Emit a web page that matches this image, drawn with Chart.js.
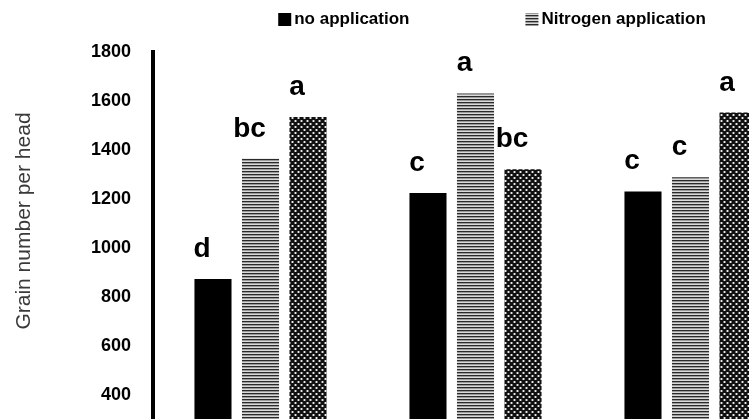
<!DOCTYPE html>
<html>
<head>
<meta charset="utf-8">
<script src="https://cdn.jsdelivr.net/npm/chart.js@4.4.1/dist/chart.umd.min.js"></script>
<style>
  html, body { margin: 0; padding: 0; background: #fff; overflow: hidden; }
  #graphCanvas { display: block; }
</style>
</head>
<body>
<canvas id="graphCanvas" width="820" height="520"></canvas>
<script>
// values
var categories = ['Group 1', 'Group 2', 'Group 3'];
var noApplication = [873, 1225, 1231];
var nitrogenApplication = [1365, 1631, 1289];
var thirdTreatment = [1535, 1321, 1553];

var lettersNo = ['d', 'c', 'c'];
var lettersNitrogen = ['bc', 'a', 'c'];
var lettersThird = ['a', 'bc', 'a'];

var yMin = 0;
var yMax = 1800;
var yStep = 200;

var axisTitle = 'Grain number per head';
var FONT = "'Liberation Sans', Arial, sans-serif";

function makeStripes()
{
    var c = document.createElement('canvas');
    c.width = 4; c.height = 3;
    var g = c.getContext('2d');
    g.fillStyle = '#2a2a2a';
    g.fillRect(0, 0, 4, 1);
    g.fillStyle = '#9a9a9a';
    g.fillRect(0, 1, 4, 1);
    g.fillStyle = '#dadada';
    g.fillRect(0, 2, 4, 1);
    return g.createPattern(c, 'repeat');
}

function makeChecker()
{
    var c = document.createElement('canvas');
    c.width = 6; c.height = 6;
    var g = c.getContext('2d');
    g.fillStyle = '#111';
    g.fillRect(0, 0, 6, 6);
    g.fillStyle = '#707070';
    g.fillRect(0, 0, 3, 2);
    g.fillRect(3, 3, 3, 2);
    g.fillStyle = '#eaeaea';
    g.fillRect(1, 0, 1, 2);
    g.fillRect(4, 3, 1, 2);
    return g.createPattern(c, 'repeat');
}

var stripes = makeStripes();
var checker = makeChecker();

// letters above bars, legend and rotated axis title
var extras = {
    id: 'extras',
    afterDatasetsDraw: function(chart) {
        var ctx = chart.ctx;
        var letters = [lettersNo, lettersNitrogen, lettersThird];
        ctx.save();
        ctx.fillStyle = '#000';
        ctx.font = 'bold 28px ' + FONT;
        ctx.textAlign = 'center';
        ctx.textBaseline = 'alphabetic';
        chart.data.datasets.forEach(function(ds, i) {
            chart.getDatasetMeta(i).data.forEach(function(bar, j) {
                ctx.fillText(letters[i][j], bar.x - 11, bar.y - 22);
            });
        });
        ctx.restore();
    },
    afterDraw: function(chart) {
        var ctx = chart.ctx;
        ctx.save();
        // legend (the visible two entries)
        ctx.font = 'bold 17px ' + FONT;
        ctx.textBaseline = 'middle';
        ctx.textAlign = 'left';
        var items = [
            { text: chart.data.datasets[0].label, fill: '#000' },
            { text: chart.data.datasets[1].label, fill: stripes }
        ];
        var box = 13, gap = 3, spacing = 116;
        var total = 0;
        items.forEach(function(it, k) {
            it.w = box + gap + ctx.measureText(it.text).width;
            total += it.w + (k > 0 ? spacing : 0);
        });
        var x = 492 - total / 2;
        var cy = 19;
        items.forEach(function(it) {
            ctx.fillStyle = it.fill;
            ctx.fillRect(x, cy - 6, box, box);
            ctx.fillStyle = '#000';
            ctx.fillText(it.text, x + box + gap, cy);
            x += it.w + spacing;
        });
        // y axis title
        ctx.translate(24, 221);
        ctx.rotate(-Math.PI / 2);
        ctx.font = '21px ' + FONT;
        ctx.fillStyle = '#3a3a3a';
        ctx.textAlign = 'center';
        ctx.fillText(axisTitle, 0, 0);
        ctx.restore();
    }
};

var graphTarget = document.getElementById('graphCanvas');

new Chart(graphTarget, {
    type: 'bar',
    data: {
        labels: categories,
        datasets: [
            { label: 'no application', data: noApplication, backgroundColor: '#000' },
            { label: 'Nitrogen application', data: nitrogenApplication, backgroundColor: stripes },
            { label: 'Third treatment', data: thirdTreatment, backgroundColor: checker }
        ]
    },
    options: {
        responsive: false,
        animation: false,
        devicePixelRatio: 1,
        layout: { padding: { top: 52, left: 0, right: 22, bottom: 27 } },
        datasets: {
            bar: { categoryPercentage: 0.663, barPercentage: 0.78, borderWidth: 0 }
        },
        plugins: {
            legend: { display: false },
            tooltip: { enabled: false }
        },
        scales: {
            x: {
                grid: { display: false },
                border: { display: false },
                ticks: { display: false },
                afterFit: function(scale) { scale.height = 0; }
            },
            y: {
                min: yMin,
                max: yMax,
                grid: { display: false },
                border: { display: true, color: '#000', width: 4 },
                ticks: {
                    stepSize: yStep,
                    padding: 14,
                    color: '#000',
                    font: { family: FONT, size: 18, weight: 'bold' },
                    callback: function(value) { return String(value); }
                },
                afterFit: function(scale) { scale.width = 153; }
            }
        }
    },
    plugins: [extras]
});
</script>
</body>
</html>
